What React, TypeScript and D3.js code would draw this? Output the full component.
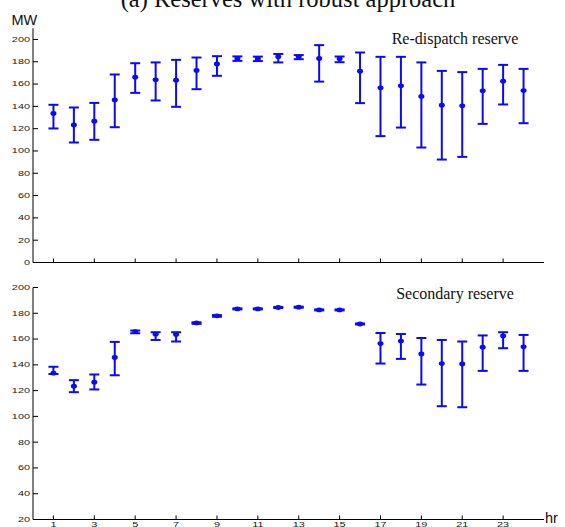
import * as d3 from "d3";

// hours and reserve values (MW)
const hours = d3.range(1, 25);
const redispMean = [133.6, 123.4, 126.7, 145.8, 166.2, 163.8, 163.5, 172.2, 178.1, 183.0, 182.6, 184.4, 184.4, 182.9, 182.6, 171.6, 156.6, 158.4, 148.9, 141.1, 140.5, 153.9, 162.6, 154.2];
const redispLow = [120.2, 107.6, 110.0, 121.3, 152.1, 145.3, 139.6, 155.4, 167.4, 180.8, 180.6, 179.4, 182.3, 162.2, 179.6, 142.9, 113.3, 121.0, 103.1, 92.3, 94.7, 124.3, 141.7, 124.9];
const redispHigh = [141.4, 139.0, 143.1, 168.6, 178.7, 179.4, 181.7, 183.8, 185.0, 184.8, 184.6, 187.0, 186.0, 194.9, 184.7, 188.3, 184.4, 184.4, 179.4, 171.8, 170.7, 173.6, 177.2, 173.6];
const secMean = [133.5, 123.4, 126.5, 145.7, 165.8, 163.8, 163.5, 172.5, 178.0, 183.4, 183.4, 184.5, 184.7, 182.6, 182.6, 171.7, 156.5, 158.4, 148.5, 141.0, 140.7, 153.7, 162.4, 154.0];
const secLow = [132.9, 118.8, 120.9, 131.9, 164.5, 159.3, 158.1, 171.8, 177.3, 183.0, 183.0, 184.1, 184.3, 182.2, 182.2, 171.3, 141.0, 144.6, 124.7, 107.9, 107.1, 135.3, 152.9, 135.3];
const secHigh = [138.5, 128.1, 132.5, 157.8, 166.6, 165.3, 165.3, 173.0, 178.6, 183.8, 183.8, 184.9, 185.1, 183.0, 183.0, 172.1, 164.7, 163.9, 160.8, 159.3, 158.1, 162.8, 165.3, 163.2];
const topTicks = [0, 20, 40, 60, 80, 100, 120, 140, 160, 180, 200];
const botTicks = [20, 40, 60, 80, 100, 120, 140, 160, 180, 200];
const hourTicks = [1, 3, 5, 7, 9, 11, 13, 15, 17, 19, 21, 23];

const W = 565;
const H = 527;
const blue = "#0a0af5";

const x = d3.scaleLinear().domain([0, 25]).range([33, 544]);
const yTop = d3.scaleLinear().domain([0, 210]).range([262.5, 28.3]);
const yBot = d3.scaleLinear().domain([20, 200]).range([519.5, 287.5]);

const tickFont = { fontFamily: "Liberation Sans, Arial, sans-serif", fontSize: 7.5, fill: "#222" };

function Panel({ y, ticks, mean, low, high, label, labelY, showXLabels }) {
  const [d0, d1] = y.domain();
  const x0 = x(0);
  return (
    <g>
      {/* axes */}
      <line x1={x0} x2={x0} y1={y(d1)} y2={y(d0)} stroke="#000" strokeWidth={1} />
      <line x1={x0} x2={x(25)} y1={y(d0)} y2={y(d0)} stroke="#000" strokeWidth={1} />
      {ticks.map((t) => (
        <g key={t}>
          <line x1={x0} x2={x0 + 5} y1={y(t)} y2={y(t)} stroke="#000" strokeWidth={1} />
          <text
            transform={`translate(30,${y(t)}) scale(1.45,1)`}
            textAnchor="end"
            dominantBaseline="central"
            {...tickFont}
          >
            {t}
          </text>
        </g>
      ))}
      {hourTicks.map((h) => (
        <g key={h}>
          <line x1={x(h)} x2={x(h)} y1={y(d0)} y2={y(d0) - 4} stroke="#000" strokeWidth={1} />
          {showXLabels && (
            <text
              transform={`translate(${x(h)},${y(d0) + 7.5}) scale(1.45,1)`}
              textAnchor="middle"
              {...tickFont}
            >
              {h}
            </text>
          )}
        </g>
      ))}
      {/* error bars */}
      {hours.map((h, i) => {
        const cx = x(h);
        return (
          <g key={h} stroke={blue} strokeWidth={2}>
            <line x1={cx} x2={cx} y1={y(low[i])} y2={y(high[i])} />
            <line x1={cx - 5} x2={cx + 5} y1={y(low[i])} y2={y(low[i])} />
            <line x1={cx - 5} x2={cx + 5} y1={y(high[i])} y2={y(high[i])} />
            <ellipse cx={cx} cy={y(mean[i])} rx={3} ry={2.4} fill={blue} stroke="none" />
          </g>
        );
      })}
      <text x={455} y={labelY} textAnchor="middle" fontFamily="Liberation Serif, Times New Roman, serif" fontSize={16} fill="#111">
        {label}
      </text>
    </g>
  );
}

export default function App() {
  return (
    <svg width={W} height={H} style={{ position: "absolute", left: 0, top: 0, background: "#fff" }}>
      <rect width={W} height={H} fill="#fff" />
      <text x={288} y={6.5} textAnchor="middle" fontFamily="Liberation Serif, Times New Roman, serif" fontSize={24.5} fill="#111">
        (a) Reserves with robust approach
      </text>
      <text x={11.5} y={25} fontFamily="Liberation Sans, Arial, sans-serif" fontSize={14.5} fill="#111">
        MW
      </text>
      <Panel y={yTop} ticks={topTicks} mean={redispMean} low={redispLow} high={redispHigh} label="Re-dispatch reserve" labelY={43.5} showXLabels={false} />
      <Panel y={yBot} ticks={botTicks} mean={secMean} low={secLow} high={secHigh} label="Secondary reserve" labelY={298.5} showXLabels={true} />
      <text x={545} y={523} fontFamily="Liberation Sans, Arial, sans-serif" fontSize={14.5} fill="#111">
        hr
      </text>
    </svg>
  );
}
